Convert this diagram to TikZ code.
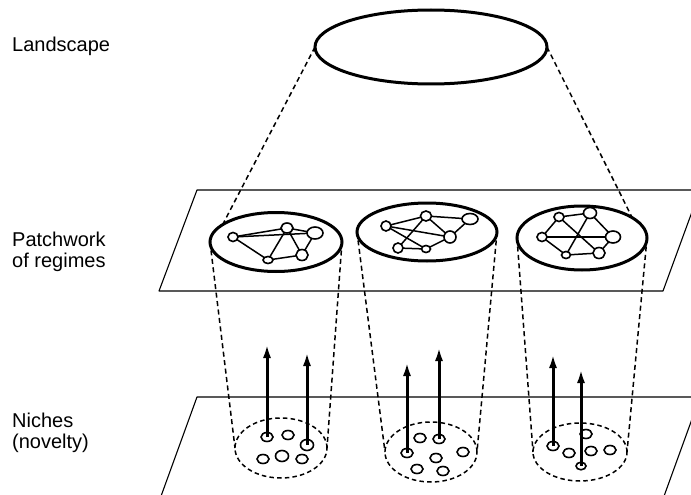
\documentclass[tikz,border=0pt]{standalone}
\usepackage{fontspec}
\setmainfont{Liberation Sans}
\usetikzlibrary{shapes.geometric,arrows.meta}

\begin{document}
\begin{tikzpicture}[x=1pt,y=-1pt,
  plane/.style={draw, line width=1.1pt, line join=round},
  bigell/.style={draw, ellipse, line width=3pt, inner sep=0pt, outer sep=0pt},
  nicheell/.style={draw, ellipse, dash pattern=on 4.5pt off 3.2pt, line width=1.5pt, inner sep=0pt, outer sep=0pt},
  guide/.style={dash pattern=on 5pt off 3.5pt, line width=1.5pt},
  netnode/.style={draw, ellipse, line width=1.6pt, inner sep=0pt, outer sep=0pt, fill=white},
  netedge/.style={line width=1.5pt},
  seed/.style={draw, ellipse, line width=1.6pt, inner sep=0pt, outer sep=0pt, minimum width=12pt, minimum height=9pt},
  rise/.style={line width=3pt, -{Latex[length=14pt,width=8pt]}},
  lbl/.style={font=\fontsize{20}{21}\selectfont, inner sep=0pt, align=left},
]
\useasboundingbox[fill=white] (0,0) rectangle (691,495);
\clip (0,0) rectangle (691,495);

% level labels
\node[lbl, anchor=base west] (tl) at (12,52) {Landscape};
\node[lbl, anchor=north west] (tp) at (12,232) {Patchwork\\of regimes};
\node[lbl, anchor=north west] (tn) at (12,413) {Niches\\(novelty)};

% the two planes
\draw[plane] (197,190) -- (700,190) -- (663,291) -- (159,291) -- cycle;
\draw[plane] (197,397) -- (700,397) -- (659,510) -- (156,510) -- cycle;

% landscape
\node[bigell, minimum width=232pt, minimum height=74pt] (land) at (431,47) {};

% regimes
\node[bigell, minimum width=132pt, minimum height=59pt] (reg1) at (276,242) {};
\node[bigell, minimum width=140pt, minimum height=58pt] (reg2) at (427,232) {};
\node[bigell, minimum width=130pt, minimum height=64pt] (reg3) at (582,238) {};

% niches
\node[nicheell, minimum width=92pt, minimum height=60pt] (nic1) at (281,448) {};
\node[nicheell, minimum width=92pt, minimum height=60pt] (nic2) at (431,452) {};
\node[nicheell, minimum width=94pt, minimum height=58pt] (nic3) at (580,452) {};

% projection lines
\draw[guide] (land.west) -- (reg1.162);
\draw[guide] (land.east) -- (reg3.22);
\foreach \i in {1,2,3} {
  \draw[guide] (reg\i.west) -- (nic\i.west);
  \draw[guide] (reg\i.east) -- (nic\i.east);
}

% regime network 1
\node[netnode, minimum width=10pt, minimum height=9pt]  (r1a) at (233,237) {};
\node[netnode, minimum width=12pt, minimum height=10pt] (r1b) at (287,228) {};
\node[netnode, minimum width=16pt, minimum height=12pt] (r1c) at (315,233) {};
\node[netnode, minimum width=12pt, minimum height=11pt] (r1d) at (302,255) {};
\node[netnode, minimum width=10pt, minimum height=7pt]  (r1e) at (268,260) {};
\draw[netedge] (r1a) -- (r1b);
\draw[netedge] (r1a) -- (r1c);
\draw[netedge] (r1a) -- (r1e);
\draw[netedge] (r1b) -- (r1c);
\draw[netedge] (r1b) -- (r1e);
\draw[netedge] (r1b) -- (r1d);
\draw[netedge] (r1e) -- (r1d);
\draw[netedge] (r1c) -- (r1d);

% regime network 2
\node[netnode, minimum width=10pt, minimum height=10pt] (r2a) at (386,226) {};
\node[netnode, minimum width=11pt, minimum height=10pt] (r2b) at (426,216) {};
\node[netnode, minimum width=16pt, minimum height=11pt] (r2c) at (470,219) {};
\node[netnode, minimum width=12pt, minimum height=12pt] (r2d) at (450,237) {};
\node[netnode, minimum width=10pt, minimum height=10pt] (r2e) at (398,248) {};
\node[netnode, minimum width=9pt,  minimum height=7pt]  (r2f) at (426,249) {};
\draw[netedge] (r2a) -- (r2b);
\draw[netedge] (r2b) -- (r2c);
\draw[netedge] (r2a) -- (r2d);
\draw[netedge] (r2a) -- (r2f);
\draw[netedge] (r2b) -- (r2e);
\draw[netedge] (r2e) -- (r2f);
\draw[netedge] (r2f) -- (r2d);
\draw[netedge] (r2d) -- (r2c);
\draw[netedge] (r2b) -- (r2d);

% regime network 3
\node[netnode, minimum width=10pt, minimum height=9pt]  (r3a) at (559,217) {};
\node[netnode, minimum width=13pt, minimum height=11pt] (r3b) at (590,213) {};
\node[netnode, minimum width=10pt, minimum height=9pt]  (r3c) at (542,237) {};
\node[netnode, minimum width=15pt, minimum height=12pt] (r3d) at (613,237) {};
\node[netnode, minimum width=9pt,  minimum height=7pt]  (r3e) at (566,255) {};
\node[netnode, minimum width=12pt, minimum height=11pt] (r3f) at (599,253) {};
\draw[netedge] (r3a) -- (r3b);
\draw[netedge] (r3c) -- (r3a);
\draw[netedge] (r3c) -- (r3d);
\draw[netedge] (r3a) -- (r3f);
\draw[netedge] (r3b) -- (r3e);
\draw[netedge] (r3b) -- (r3d);
\draw[netedge] (r3d) -- (r3f);
\draw[netedge] (r3c) -- (r3e);
\draw[netedge] (r3e) -- (r3f);

% niche seeds 1
\node[seed] (n1a) at (267,437) {};
\node[seed] (n1b) at (288,435) {};
\node[seed, minimum width=13pt, minimum height=11pt] (n1c) at (307,445) {};
\node[seed] (n1d) at (263,459) {};
\node[seed, minimum width=13pt, minimum height=11pt] (n1e) at (282,456) {};
\node[seed] (n1f) at (302,459) {};
% niche seeds 2
\node[seed] (n2a) at (420,438) {};
\node[seed] (n2b) at (439,439) {};
\node[seed] (n2c) at (407,453) {};
\node[seed] (n2d) at (436,458) {};
\node[seed] (n2e) at (463,452) {};
\node[seed] (n2f) at (417,469) {};
\node[seed] (n2g) at (443,471) {};
% niche seeds 3
\node[seed] (n3a) at (586,434) {};
\node[seed] (n3b) at (553,446) {};
\node[seed] (n3c) at (569,453) {};
\node[seed] (n3d) at (591,451) {};
\node[seed] (n3e) at (610,450) {};
\node[seed, minimum width=10pt, minimum height=7.5pt] (n3f) at (581,466) {};

% upward arrows
\coordinate (t1a) at (267,344);
\coordinate (t1c) at (307,352);
\coordinate (t2c) at (407,362);
\coordinate (t2b) at (439,347);
\coordinate (t3b) at (553,354);
\coordinate (t3f) at (581,369);
\draw[rise] (n1a.center) -- (t1a);
\draw[rise] (n1c.center) -- (t1c);
\draw[rise] (n2c.center) -- (t2c);
\draw[rise] (n2b.center) -- (t2b);
\draw[rise] (n3b.center) -- (t3b);
\draw[rise] (n3f.center) -- (t3f);
\end{tikzpicture}
\end{document}
